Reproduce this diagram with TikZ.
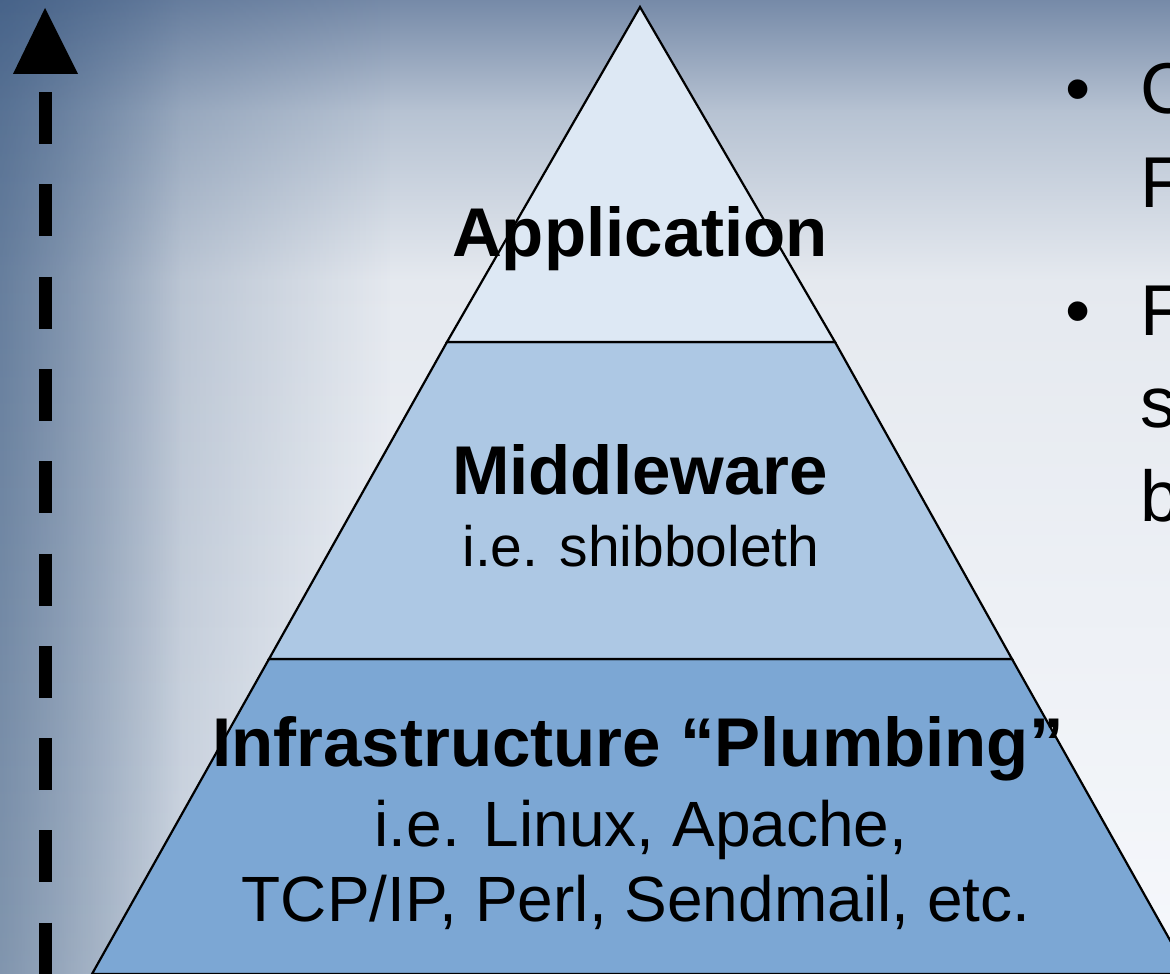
\documentclass[tikz,border=0pt]{standalone}
\usepackage{fontspec}
\setmainfont{Liberation Sans}
\usetikzlibrary{fadings}

\definecolor{bgA}{RGB}{118,138,168}
\definecolor{bgB}{RGB}{182,194,210}
\definecolor{bgC}{RGB}{229,233,239}
\definecolor{bgD}{RGB}{246,248,252}
\definecolor{edgeTop}{RGB}{60,90,130}
\definecolor{edgeBot}{RGB}{100,125,155}
\definecolor{tierTop}{RGB}{221,232,244}
\definecolor{tierMid}{RGB}{173,200,228}
\definecolor{tierBase}{RGB}{124,167,212}

\tikzset{
  tier/.style={draw=black, line width=2.2pt, line join=miter},
  headline/.style={inner sep=0pt, anchor=base, font=\fontsize{69}{80}\selectfont\bfseries},
  subline/.style={inner sep=0pt, anchor=base, font=\fontsize{64}{74}\selectfont},
  sideline/.style={inner sep=0pt, anchor=base west, font=\fontsize{72}{84}\selectfont},
  sidebullet/.style={inner sep=0pt, anchor=base, font=\fontsize{72}{84}\selectfont},
}

\begin{document}
\begin{tikzpicture}[x=1pt, y=-1pt]
\useasboundingbox (0,0) rectangle (1170,974);
\clip (0,0) rectangle (1170,974);

% background: light sky fading down, darker band along the left edge
\shade[top color=bgA, bottom color=bgB] (0,0) rectangle (1170,111);
\shade[top color=bgB, bottom color=bgC] (0,110) rectangle (1170,281);
\shade[top color=bgC, bottom color=bgD] (0,280) rectangle (1170,974);
\shade[top color=edgeTop, bottom color=edgeBot, opacity=0.6, path fading=east]
  (0,0) rectangle (180,974);
\shade[top color=edgeTop, bottom color=edgeBot, opacity=0.5, path fading=east]
  (0,0) rectangle (390,974);

% pyramid corners
\coordinate (apex) at (640,7);
\coordinate (tl) at (447,342);
\coordinate (tr) at (835,342);
\coordinate (ml) at (269,659);
\coordinate (mr) at (1012,659);
\coordinate (bl) at (92,974);
\coordinate (br) at (1189,974);

% pyramid tiers
\draw[tier, fill=tierBase] (ml) -- (mr) -- (br) -- (bl) -- cycle;
\draw[tier, fill=tierMid] (tl) -- (tr) -- (mr) -- (ml) -- cycle;
\draw[tier, fill=tierTop] (apex) -- (tr) -- (tl) -- cycle;

% tier labels
\node[headline] (app) at (640,256) {Application};
\node[headline] (mid) at (640,494) {Middleware};
\node[subline, font=\fontsize{57}{66}\selectfont] (midex) at (641,566) {i.e. shibboleth};
\node[headline] (infra) at (638,766) {Infrastructure “Plumbing”};
\node[subline] (infraA) at (641,846) {i.e. Linux, Apache,};
\node[subline] (infraB) at (636,921) {TCP/IP, Perl, Sendmail, etc.};

% dashed upward arrow on the left
\coordinate (shafttop) at (45,92);
\coordinate (shaftend) at (45,1020);
\coordinate (headtip) at (45,8);
\coordinate (headl) at (13,74);
\coordinate (headr) at (78,74);
\draw[line width=13pt, dash pattern=on 52pt off 40.3pt] (shafttop) -- (shaftend);
\fill[black] (headtip) -- (headr) -- (headl) -- cycle;

% bullet text running off the right edge
\node[sidebullet] (b1) at (1078,113) {•};
\node[sideline] (t1) at (1140,113) {C};
\node[sideline] (t2) at (1140,207) {F};
\node[sidebullet] (b2) at (1078,335) {•};
\node[sideline] (t3) at (1140,335) {F};
\node[sideline] (t4) at (1140,427) {s};
\node[sideline] (t5) at (1140,521) {b};
\end{tikzpicture}
\end{document}
